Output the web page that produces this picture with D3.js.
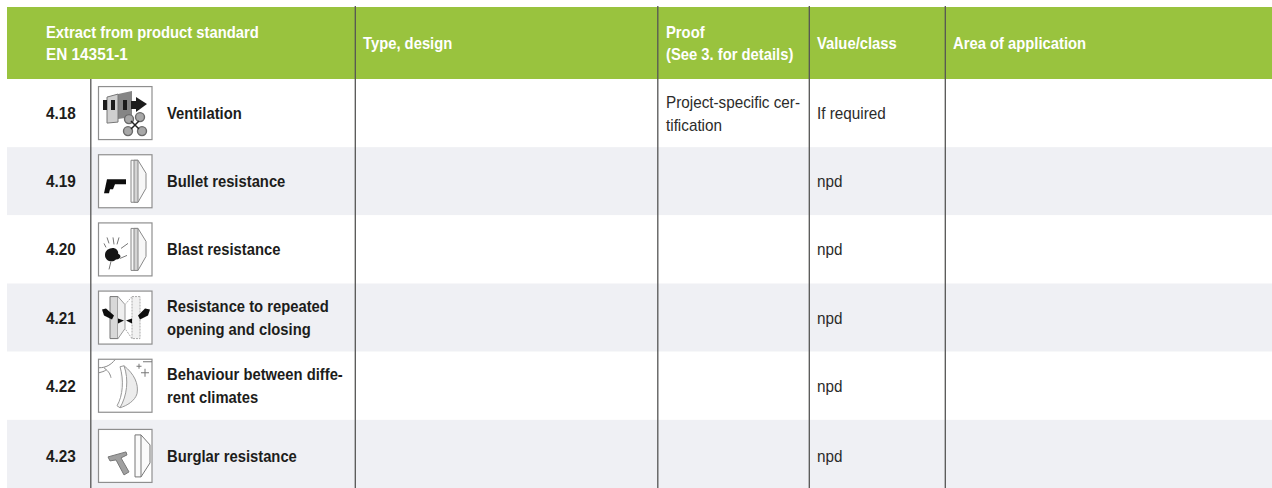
<!DOCTYPE html>
<html>
<head>
<meta charset="utf-8">
<script src="https://d3js.org/d3.v7.min.js"></script>
<style>
html, body { margin: 0; padding: 0; background: #fff; }
svg { display: block; }
text { font-family: "Liberation Sans", sans-serif; font-size: 16.5px; }
.head { fill: #fff; font-weight: bold; }
.num, .name { fill: #1d1d1b; font-weight: bold; }
.plain { fill: #2b2b2a; font-size: 16px; }
</style>
</head>
<body>
<div id="chart"></div>
<script>
// Table content
var rowIds = ["4.18", "4.19", "4.20", "4.21", "4.22", "4.23"];
var rowNames = [
	["Ventilation"],
	["Bullet resistance"],
	["Blast resistance"],
	["Resistance to repeated", "opening and closing"],
	["Behaviour between diffe-", "rent climates"],
	["Burglar resistance"]
];
var proofs = [["Project-specific cer-", "tification"], [], [], [], [], []];
var values = ["If required", "npd", "npd", "npd", "npd", "npd"];
var iconKinds = ["fan", "gun", "blast", "cycle", "climate", "hammer"];
var columns = ["extract", "type", "proof", "value", "area"];
var headers = [
	["Extract from product standard", "EN 14351-1"],
	["Type, design"],
	["Proof", "(See 3. for details)"],
	["Value/class"],
	["Area of application"]
];

// SVG width and height
var width = 1272;
var height = 488;
var headTop = 7;
var headBottom = 79;

var svg = d3.select("#chart").append("svg")
	.attr("width", width)
	.attr("height", height);

var defs = svg.append("defs");
defs.append("filter").attr("id", "soft")
	.append("feGaussianBlur").attr("stdDeviation", "0.5");

// Rows and columns
var y = d3.scaleBand().domain(rowIds).range([headBottom, height]);
var colX = d3.scaleOrdinal().domain(columns).range([90.8, 355.3, 657.8, 809.3, 945.3]);
var textX = d3.scaleOrdinal().domain(columns).range([46, 363, 666, 817, 953]);

// Row backgrounds
svg.append("g").selectAll("rect")
	.data(rowIds)
	.enter().append("rect")
	.attr("x", 7)
	.attr("y", function(d){ return y(d); })
	.attr("width", width - 7)
	.attr("height", y.bandwidth())
	.attr("fill", function(d, i){ return i % 2 ? "#eff0f4" : "#fff"; });

// Header band
svg.append("rect")
	.attr("x", 7)
	.attr("y", headTop)
	.attr("width", width - 7)
	.attr("height", headBottom - headTop)
	.attr("fill", "#99c33e");

// Column rules
svg.append("g").selectAll("line")
	.data(columns)
	.enter().append("line")
	.attr("x1", function(d){ return colX(d); })
	.attr("x2", function(d){ return colX(d); })
	.attr("y1", function(d){ return d == "extract" ? headBottom : headTop - 1; })
	.attr("y2", height)
	.attr("stroke", "#555554")
	.attr("stroke-width", 1.3);

// Squeeze to mimic the condensed face, digits were set a bit wider
function squeeze(t, cls) {
	var digits = t.replace(/[^0-9]/g, "").length;
	if (digits > t.length / 2) return 0.93;
	return cls == "plain" ? 0.955 : 0.897;
}

// Writes one or two lines centred on cy
function block(sel, lines, x, cy, cls, leading) {
	lines.forEach(function(t, i){
		var ty = cy + (i - (lines.length - 1) / 2) * leading + 5.5;
		sel.append("text")
			.attr("class", cls)
			.attr("transform", "translate(" + x + "," + ty + ") scale(" + squeeze(t, cls) + ",1)")
			.text(t);
	});
}

// Header text
var headG = svg.append("g");
columns.forEach(function(c, i){
	block(headG, headers[i], textX(c), (headTop + headBottom) / 2 + 0.5, "head", 21.5);
});

// Door profile shared by the resistance icons
function door(g, x0) {
	g.append("path").attr("d", "M" + x0 + ",6 V48 H" + (x0 + 7) + " L" + (x0 + 15) + ",34 V19 L" + (x0 + 7) + ",6Z").attr("fill", "#f7f7f7").attr("stroke", "#888");
	g.append("path").attr("d", "M" + (x0 + 3) + ",6 H" + (x0 + 7) + " V48 H" + (x0 + 3) + "Z").attr("fill", "#d4d4d4").attr("stroke", "#888");
}

// Icons, drawn on a 54 unit box
var iconDraw = {
	fan: function(g){
		g.append("path").attr("d", "M20,8 L34,5 L34,31 L20,33Z").attr("fill", "#858585");
		g.append("path").attr("d", "M9,11 L20,8 L20,36 L9,37Z").attr("fill", "#cfcfcf").attr("stroke", "#777");
		g.append("path").attr("d", "M5,14 h4 v10 h-4z M13,14 h4 v10 h-4z M25,14 h4 v10 h-4z M33,15 H38 V11 L49,18 L38,26 V23 H33Z").attr("fill", "#1e1e1e");
		[[42, 31], [31, 33], [30, 45], [44, 45]].forEach(function(p){
			g.append("ellipse").attr("cx", p[0]).attr("cy", p[1])
				.attr("rx", 4.5).attr("ry", 4.5).attr("fill", "#a8a8a8").attr("stroke", "#6a6a6a").attr("stroke-width", 1.4);
		});
		g.append("path").attr("d", "M33,35 L41,43 M41,35 L33,43").attr("stroke", "#222").attr("stroke-width", 1.5);
	},
	gun: function(g){
		door(g, 33);
		g.append("path").attr("d", "M9,25 H28 V30 H17 L15,35 H12 L11,39 H6Z").attr("fill", "#111");
	},
	blast: function(g){
		door(g, 33);
		g.append("path").attr("d", "M12,26 C17,24 21,28 20,31 C24,33 23,37 18,37 C14,41 7,38 7,33 C7,29 9,27 12,26Z").attr("fill", "#161616");
		g.append("path").attr("d", "M15,15 L16,22 M21,15 L19,22 M9,15 L11,21 M23,26 L30,21 M22,36 L29,33 M13,39 L11,47 M8,25 L6,21")
			.attr("stroke", "#777").attr("stroke-width", 1).attr("fill", "none");
	},
	cycle: function(g){
		g.append("path").attr("d", "M12,6 H20 V48 H12Z").attr("fill", "#d8d8d8").attr("stroke", "#777");
		g.append("path").attr("d", "M20,6 L27,14 V38 L20,48").attr("fill", "#efefef").attr("stroke", "#999");
		g.append("path").attr("d", "M42,6 H34 V48 H42Z M34,6 L27,14 M34,48 L27,38").attr("fill", "#f1f1f1").attr("stroke", "#aaa").attr("stroke-dasharray", "2 1");
		g.append("path").attr("d", "M4,19 L8,18 L16,25 L14,29 L6,25Z M52,19 L47,18 L40,25 L42,29 L50,25Z").attr("fill", "#111");
		g.append("path").attr("d", "M20,28 L26,30 L20,33Z M34,28 L28,30 L34,33Z").attr("fill", "#111");
	},
	climate: function(g){
		g.append("path").attr("d", "M1,9 C8,9 13,6 17,1 M6,9 C11,13 12,15 13,19 M1,14 C4,13 6,13 8,11")
			.attr("stroke", "#888").attr("fill", "none");
		g.append("path").attr("d", "M26,7 C36,15 41,25 39,35 C37,42 29,47 22,49 C29,37 31,21 26,7Z").attr("fill", "#ececec").attr("stroke", "#999");
		g.append("path").attr("d", "M22,8 C26,21 25,37 19,47 L22,49 M22,8 L26,7").attr("fill", "#f6f6f6").attr("stroke", "#999");
		g.append("path").attr("d", "M47,10 v8 M43,14 h8 M41,5 v5 M38.500,7.500 h5 M45,3 h9")
			.attr("stroke", "#777").attr("fill", "none");
	},
	hammer: function(g){
		g.append("path").attr("d", "M37,6 V48 H43 L52,34 V16 L43,6Z M43,6 V48").attr("fill", "#fafafa").attr("stroke", "#777");
		g.append("path").attr("d", "M10,28 L28,23 L29,26 L23,29 L31,43 L26,46 L18,31 L12,32Z").attr("fill", "#a0a0a0").attr("stroke", "#777");
	}
};

// Rows
var rows = svg.append("g").selectAll("g")
	.data(rowIds)
	.enter().append("g");

rows.each(function(d, i){
	var g = d3.select(this);
	var cy = y(d) + y.bandwidth() / 2 + 0.5;
	// last row sits lower in the source scan
	if (d == "4.23") cy += 2;
	block(g, [d], textX("extract"), cy, "num", 23);
	block(g, rowNames[i], 167, cy, "name", 23);
	block(g, proofs[i], textX("proof"), cy, "plain", 23);
	block(g, [values[i]], textX("value"), cy, "plain", 23);

	var icon = g.append("g")
		.attr("transform", "translate(98," + (cy - 27.5) + ")");
	icon.append("rect")
		.attr("x", 0.5).attr("y", 0.5)
		.attr("width", 53.5).attr("height", 53)
		.attr("fill", "#fff")
		.attr("stroke", "#8f8f8f")
		.attr("stroke-width", 1.2);
	var art = icon.append("g").attr("filter", "url(#soft)");
	iconDraw[iconKinds[i]](art);
});
</script>
</body>
</html>
